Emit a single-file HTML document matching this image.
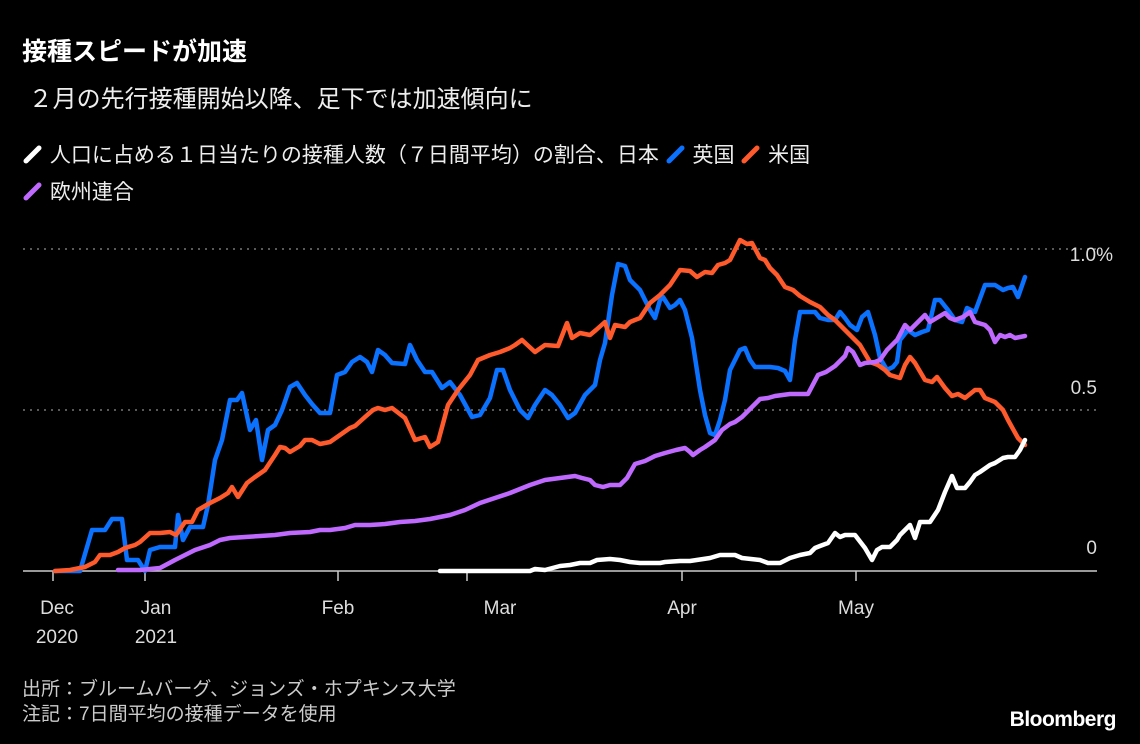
<!DOCTYPE html>
<html><head><meta charset="utf-8"><style>
body{margin:0;background:#000;width:1140px;height:744px;overflow:hidden;font-family:"Liberation Sans","Noto Sans CJK JP",sans-serif;color:#fff}
.t{position:absolute;white-space:nowrap}
</style></head><body>
<div class="t" style="left:22px;top:32px;font-size:25px;font-weight:bold">接種スピードが加速</div>
<div class="t" style="left:22px;top:79px;font-size:24px;color:#eee">&nbsp;２月の先行接種開始以降、足下では加速傾向に</div>
<div class="t" style="left:22px;top:139px;font-size:21px;color:#eee">
<svg width="22" height="22" style="vertical-align:-3px"><line x1="4" y1="18" x2="17" y2="5" stroke="#fff" stroke-width="5" stroke-linecap="round"/></svg> 人口に占める１日当たりの接種人数（７日間平均）の割合、日本
<svg width="22" height="22" style="vertical-align:-3px"><line x1="4" y1="18" x2="17" y2="5" stroke="#0a72ff" stroke-width="5" stroke-linecap="round"/></svg> 英国
<svg width="22" height="22" style="vertical-align:-3px"><line x1="4" y1="18" x2="17" y2="5" stroke="#ff5a2b" stroke-width="5" stroke-linecap="round"/></svg> 米国</div>
<div class="t" style="left:22px;top:176px;font-size:21px;color:#eee"><svg width="22" height="22" style="vertical-align:-3px"><line x1="4" y1="18" x2="17" y2="5" stroke="#c069ff" stroke-width="5" stroke-linecap="round"/></svg> 欧州連合</div>
<svg width="1140" height="744" style="position:absolute;left:0;top:0">
<g stroke="#777" stroke-width="1.5" stroke-dasharray="2,5"><line x1="23" y1="249" x2="1097" y2="249"/><line x1="23" y1="410" x2="1097" y2="410"/></g>
<line x1="23" y1="571" x2="1097" y2="571" stroke="#ccc" stroke-width="1.5"/>
<g stroke="#ccc" stroke-width="1.5"><line x1="53" y1="571" x2="53" y2="581"/><line x1="145" y1="571" x2="145" y2="581"/><line x1="338" y1="571" x2="338" y2="581"/><line x1="467" y1="571" x2="467" y2="581"/><line x1="682" y1="571" x2="682" y2="581"/><line x1="856" y1="571" x2="856" y2="581"/></g>
<g font-size="19" fill="#ddd" font-family="Liberation Sans,sans-serif">
<text x="1113" y="261" text-anchor="end">1.0%</text><text x="1097" y="394" text-anchor="end">0.5</text><text x="1097" y="554" text-anchor="end">0</text>
<text x="57" y="614" text-anchor="middle">Dec</text><text x="57" y="643" text-anchor="middle">2020</text>
<text x="156" y="614" text-anchor="middle">Jan</text><text x="156" y="643" text-anchor="middle">2021</text>
<text x="338" y="614" text-anchor="middle">Feb</text><text x="500" y="614" text-anchor="middle">Mar</text><text x="682" y="614" text-anchor="middle">Apr</text><text x="856" y="614" text-anchor="middle">May</text>
</g>
<g fill="none" stroke-width="4.5" stroke-linejoin="round" stroke-linecap="round">
<polyline stroke="#0a72ff" points="55,571 80,571 92,530 105,530 112,519 122,519 127,560 138,560 145,571 150,550 160,547 175,547 178,515 183,540 190,527 203,527 208,505 215,460 222,440 230,400 237,400 242,393 250,430 256,420 262,460 268,430 275,425 282,410 290,387 297,383 305,395 312,404 320,413 330,413 337,375 345,372 352,362 360,357 367,362 372,372 378,350 385,355 392,363 405,364 410,345 417,360 425,372 432,372 442,388 450,382 460,395 472,417 480,415 490,398 497,370 503,370 510,390 520,410 528,418 535,405 545,390 552,395 560,405 568,418 575,413 585,395 595,385 600,360 605,343 612,295 618,264 625,266 630,280 640,290 650,310 655,318 660,300 663,297 670,308 675,305 680,300 685,310 692,338 700,390 705,415 710,433 715,435 720,420 725,400 730,370 740,350 745,348 750,360 755,367 760,367 770,367 778,368 785,371 790,380 795,340 800,312 805,312 815,312 820,318 828,320 835,320 840,312 845,318 850,325 857,330 862,317 868,312 875,335 880,358 887,370 893,367 897,362 900,340 908,330 915,335 922,332 928,330 935,300 940,300 948,310 955,320 962,322 967,308 975,312 985,285 995,285 1003,290 1008,288 1013,287 1018,297 1025,277"/>
<polyline stroke="#ff5a2b" points="55,571 70,570 85,567 95,562 100,555 110,555 118,552 125,548 135,545 140,542 150,533 160,533 170,532 176,535 185,522 192,522 198,510 210,503 220,498 228,493 232,487 238,497 247,483 255,477 265,470 275,455 280,447 285,448 290,452 300,446 305,440 312,440 320,444 330,442 340,435 350,428 355,426 365,417 373,410 378,408 385,410 392,408 405,418 415,440 425,437 430,447 438,442 448,405 458,390 470,375 478,360 490,355 500,352 510,348 515,345 522,340 535,352 545,345 558,346 567,323 572,338 580,333 590,335 596,330 605,322 610,338 615,325 625,327 630,322 640,318 650,303 660,295 670,285 680,270 690,271 697,277 705,272 712,273 718,265 725,263 730,260 735,250 740,240 747,244 752,243 760,258 765,260 770,268 777,275 785,287 793,290 800,296 810,302 820,307 828,315 835,320 840,325 848,333 860,345 870,362 878,365 885,370 890,375 900,378 905,365 910,357 915,363 925,380 932,382 937,377 945,388 952,396 958,394 965,398 975,390 980,390 985,398 995,402 1003,410 1008,420 1018,438 1025,445"/>
<polyline stroke="#c069ff" points="118,570 140,570 160,568 175,560 185,555 195,550 210,545 220,540 230,538 245,537 260,536 275,535 290,533 310,532 320,530 330,530 345,528 355,525 370,525 385,524 400,522 415,521 430,519 450,515 465,510 480,503 495,498 510,493 530,485 545,480 560,478 575,476 582,478 590,480 595,485 603,487 610,485 620,485 627,478 635,464 645,461 655,456 665,453 676,450 685,448 690,452 693,455 700,450 705,447 715,440 722,430 730,424 735,422 742,417 750,409 760,399 768,398 775,396 790,394 808,394 818,375 826,372 835,366 845,356 848,348 853,352 860,365 865,363 875,362 880,360 887,350 897,340 905,325 910,330 920,320 925,315 930,322 940,316 945,313 950,318 955,320 963,317 970,312 975,322 985,325 990,330 995,342 1000,335 1005,337 1010,335 1015,338 1025,336"/>
<polyline stroke="#fff" points="440,571 530,571 535,569 545,570 560,566 570,565 580,563 590,563 597,560 610,559 620,560 630,562 640,563 660,563 665,562 680,561 690,561 710,558 720,555 735,555 742,558 760,560 768,563 780,563 790,558 800,555 810,553 815,548 820,546 828,543 835,533 840,537 845,535 855,535 865,548 872,560 877,550 882,547 890,547 897,540 900,535 905,530 910,525 915,538 920,522 930,522 938,510 945,492 952,476 957,488 965,488 970,482 975,475 980,472 990,465 995,463 1003,458 1008,457 1015,457 1020,450 1025,440"/>
</g>
</svg>
<div class="t" style="left:22px;top:674px;font-size:19px;color:#ccc">出所：ブルームバーグ、ジョンズ・ホプキンス大学</div>
<div class="t" style="left:22px;top:699px;font-size:19px;color:#ccc">注記：7日間平均の接種データを使用</div>
<div class="t" style="right:24px;top:708px;font-size:21px;font-weight:bold;letter-spacing:-0.5px">Bloomberg</div>
</body></html>
